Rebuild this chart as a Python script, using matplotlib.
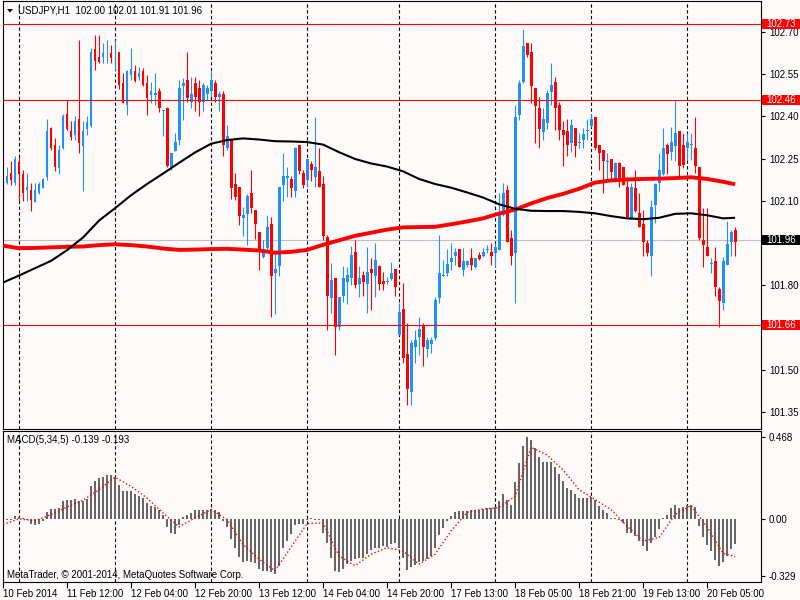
import matplotlib
matplotlib.use("Agg")
import matplotlib.pyplot as plt
from matplotlib.patches import Rectangle, Polygon
from matplotlib.transforms import blended_transform_factory
import numpy as np
import pandas as pd

plt.rcParams['font.family'] = ['Liberation Sans', 'DejaVu Sans']

BG = '#fffafa'
BULL = '#1e90ff'
BEAR = '#ff0000'

# USDJPY H1 candles, 10 Feb 20:00 .. 20 Feb 12:00
opens = [102.12, 102.165, 102.20, 102.163, 102.238, 102.196, 102.137, 102.139, 102.097, 102.127,
         102.145, 102.186, 102.359, 102.30, 102.218, 102.287, 102.408, 102.348, 102.334, 102.392,
         102.295, 102.355, 102.366, 102.641, 102.612, 102.61, 102.613, 102.624, 102.62, 102.63,
         102.518, 102.44, 102.548, 102.563, 102.539, 102.563, 102.52, 102.477, 102.476, 102.491,
         102.42, 102.429, 102.218, 102.279, 102.316, 102.508, 102.529, 102.453, 102.52, 102.50,
         102.45, 102.48, 102.49, 102.52, 102.47, 102.48, 102.287, 102.319, 102.16, 102.148,
         102.038, 102.054, 102.127, 102.068, 101.99, 101.90, 101.934, 102.018, 101.845, 101.869,
         102.157, 102.18, 102.177, 102.136, 102.298, 102.20, 102.174, 102.23, 102.184, 102.207,
         102.16, 101.973, 101.754, 101.825, 101.651, 101.762, 101.813, 101.825, 101.917, 101.805,
         101.837, 101.805, 101.857, 101.833, 101.869, 101.816, 101.812, 101.821, 101.857, 101.624,
         101.716, 101.556, 101.423, 101.582, 101.615, 101.656, 101.574, 101.592, 101.612, 101.756,
         101.834, 101.845, 101.884, 101.905, 101.929, 101.855, 101.872, 101.896, 101.866, 101.908,
         101.904, 101.927, 101.920, 101.916, 101.926, 102.050, 102.139, 101.967, 101.916, 102.405,
         102.524, 102.660, 102.630, 102.500, 102.429, 102.346, 102.378, 102.488, 102.524, 102.441,
         102.352, 102.350, 102.307, 102.358, 102.307, 102.316, 102.349, 102.366, 102.397, 102.299,
         102.281, 102.238, 102.248, 102.168, 102.236, 102.222, 102.151, 102.035, 102.145, 102.058,
         102.018, 101.949, 101.904, 102.086, 102.165, 102.196, 102.299, 102.275, 102.295, 102.350,
         102.299, 102.287, 102.298, 102.287, 102.222, 101.961, 101.938, 101.876, 101.888, 101.787,
         101.736, 101.872, 101.955, 101.997]
highs = [102.19, 102.22, 102.24, 102.26, 102.257, 102.21, 102.20, 102.163, 102.163, 102.168,
         102.18, 102.392, 102.361, 102.322, 102.30, 102.41, 102.458, 102.382, 102.40, 102.672,
         102.382, 102.40, 102.642, 102.69, 102.69, 102.66, 102.67, 102.654, 102.67, 102.63,
         102.553, 102.565, 102.642, 102.582, 102.577, 102.571, 102.547, 102.524, 102.553, 102.50,
         102.423, 102.432, 102.27, 102.34, 102.53, 102.535, 102.63, 102.54, 102.54, 102.53,
         102.52, 102.51, 102.56, 102.53, 102.49, 102.49, 102.37, 102.32, 102.198, 102.15,
         102.08, 102.124, 102.21, 102.068, 101.99, 101.96, 102.05, 102.042, 101.92, 102.15,
         102.27, 102.22, 102.19, 102.29, 102.30, 102.21, 102.25, 102.24, 102.397, 102.287,
         102.19, 101.979, 101.878, 101.825, 101.76, 101.87, 101.866, 101.94, 101.96, 101.87,
         101.85, 101.938, 101.896, 101.949, 101.872, 101.848, 101.83, 101.884, 101.857, 101.736,
         101.807, 101.665, 101.606, 101.642, 101.689, 101.665, 101.618, 101.618, 101.760, 101.979,
         101.890, 101.928, 101.949, 101.932, 101.929, 101.932, 101.890, 101.932, 101.899, 101.920,
         101.932, 101.943, 101.949, 101.949, 102.127, 102.163, 102.157, 101.997, 102.441, 102.530,
         102.71, 102.660, 102.660, 102.500, 102.470, 102.429, 102.494, 102.589, 102.541, 102.453,
         102.382, 102.390, 102.390, 102.358, 102.340, 102.358, 102.390, 102.409, 102.397, 102.299,
         102.281, 102.271, 102.248, 102.239, 102.239, 102.222, 102.186, 102.165, 102.210, 102.127,
         102.068, 101.961, 102.103, 102.163, 102.269, 102.358, 102.305, 102.364, 102.458, 102.350,
         102.340, 102.340, 102.340, 102.399, 102.222, 102.074, 102.074, 101.896, 101.938, 101.795,
         101.902, 102.030, 101.997, 102.009]
lows = [102.11, 102.16, 102.157, 102.157, 102.10, 102.10, 102.10, 102.065, 102.097, 102.125,
        102.145, 102.174, 102.28, 102.207, 102.196, 102.283, 102.352, 102.318, 102.316, 102.269,
        102.136, 102.334, 102.364, 102.565, 102.589, 102.589, 102.589, 102.589, 102.565, 102.496,
        102.447, 102.405, 102.53, 102.524, 102.53, 102.508, 102.405, 102.447, 102.44, 102.417,
        102.33, 102.222, 102.21, 102.279, 102.30, 102.387, 102.452, 102.43, 102.42, 102.40,
        102.42, 102.46, 102.47, 102.45, 102.42, 102.26, 102.28, 102.106, 102.103, 102.015,
        101.975, 101.943, 102.056, 101.964, 101.855, 101.896, 101.926, 101.686, 101.70, 101.833,
        102.10, 102.115, 102.115, 102.115, 102.196, 102.145, 102.148, 102.17, 102.148, 102.148,
        101.96, 101.641, 101.701, 101.553, 101.641, 101.74, 101.734, 101.80, 101.79, 101.76,
        101.764, 101.703, 101.712, 101.760, 101.784, 101.784, 101.805, 101.819, 101.762, 101.624,
        101.525, 101.375, 101.375, 101.523, 101.553, 101.514, 101.544, 101.559, 101.606, 101.736,
        101.833, 101.833, 101.855, 101.872, 101.866, 101.833, 101.866, 101.855, 101.863, 101.890,
        101.902, 101.914, 101.872, 101.866, 101.926, 102.047, 101.955, 101.872, 101.736, 102.387,
        102.518, 102.612, 102.449, 102.307, 102.287, 102.316, 102.354, 102.441, 102.352, 102.316,
        102.224, 102.260, 102.275, 102.257, 102.287, 102.287, 102.316, 102.364, 102.281, 102.210,
        102.127, 102.174, 102.168, 102.168, 102.151, 102.157, 102.044, 102.035, 102.062, 102.006,
        101.904, 101.904, 101.833, 102.020, 102.136, 102.192, 102.196, 102.245, 102.243, 102.189,
        102.216, 102.245, 102.245, 102.198, 101.961, 101.867, 101.904, 101.845, 101.762, 101.651,
        101.713, 101.872, 101.904, 101.904]
closes = [102.17, 102.19, 102.175, 102.248, 102.196, 102.127, 102.15, 102.103, 102.139, 102.16,
          102.177, 102.348, 102.287, 102.222, 102.28, 102.40, 102.355, 102.328, 102.382, 102.307,
          102.348, 102.38, 102.63, 102.598, 102.594, 102.624, 102.614, 102.606, 102.622, 102.512,
          102.449, 102.563, 102.567, 102.526, 102.553, 102.51, 102.467, 102.491, 102.484, 102.429,
          102.421, 102.224, 102.269, 102.31, 102.50, 102.52, 102.464, 102.48, 102.47, 102.45,
          102.51, 102.50, 102.53, 102.47, 102.48, 102.30, 102.33, 102.147, 102.115, 102.048,
          102.05, 102.118, 102.076, 102.017, 101.92, 101.92, 102.009, 101.833, 101.857, 102.148,
          102.189, 102.19, 102.145, 102.287, 102.206, 102.157, 102.248, 102.21, 102.222, 102.148,
          101.976, 101.762, 101.819, 101.653, 101.76, 101.825, 101.837, 101.908, 101.80, 101.825,
          101.813, 101.846, 101.843, 101.890, 101.805, 101.805, 101.814, 101.845, 101.795, 101.707,
          101.541, 101.431, 101.596, 101.606, 101.645, 101.582, 101.606, 101.606, 101.748, 101.845,
          101.835, 101.876, 101.896, 101.920, 101.866, 101.888, 101.888, 101.872, 101.896, 101.893,
          101.920, 101.929, 101.904, 101.938, 102.058, 102.127, 101.955, 101.904, 102.397, 102.518,
          102.650, 102.618, 102.508, 102.437, 102.354, 102.390, 102.482, 102.512, 102.429, 102.352,
          102.334, 102.299, 102.370, 102.295, 102.309, 102.337, 102.351, 102.390, 102.287, 102.269,
          102.243, 102.240, 102.204, 102.236, 102.174, 102.157, 102.044, 102.148, 102.065, 102.006,
          101.955, 101.914, 102.080, 102.160, 102.210, 102.289, 102.267, 102.310, 102.342, 102.224,
          102.228, 102.310, 102.300, 102.224, 101.967, 101.943, 101.904, 101.878, 101.795, 101.744,
          101.888, 101.947, 101.991, 101.955]

# moving averages, read every 4th bar (plus the last one)
ma_step = 4
ma_black = [101.81, 101.835, 101.861, 101.887, 101.925, 101.97, 102.03, 102.074, 102.12, 102.16,
            102.197, 102.235, 102.272, 102.303, 102.316, 102.322, 102.318, 102.312, 102.311, 102.309,
            102.300, 102.273, 102.249, 102.233, 102.222, 102.205, 102.178, 102.16, 102.147, 102.13,
            102.112, 102.088, 102.072, 102.065, 102.064, 102.064, 102.061, 102.056, 102.046, 102.038,
            102.035, 102.040, 102.054, 102.056, 102.049, 102.038, 102.040]
ma_red = [101.941, 101.932, 101.933, 101.935, 101.937, 101.938, 101.943, 101.946, 101.943, 101.938,
          101.931, 101.926, 101.927, 101.929, 101.930, 101.927, 101.924, 101.916, 101.919, 101.926,
          101.944, 101.960, 101.976, 101.987, 101.998, 102.006, 102.007, 102.008, 102.017, 102.027,
          102.038, 102.055, 102.069, 102.091, 102.110, 102.125, 102.143, 102.165, 102.173, 102.176,
          102.178, 102.179, 102.181, 102.184, 102.178, 102.168, 102.159]

# MACD(5,34,5) main values per bar, and signal read every 4th bar
macd = [-0.011, -0.011, -0.006, 0.017, 0.010, 0.002, -0.011, -0.029, -0.036, -0.034,
        -0.017, 0.040, 0.057, 0.055, 0.059, 0.099, 0.109, 0.109, 0.112, 0.099,
        0.101, 0.112, 0.185, 0.217, 0.232, 0.242, 0.251, 0.248, 0.242, 0.194,
        0.156, 0.156, 0.156, 0.143, 0.131, 0.118, 0.090, 0.074, 0.067, 0.048,
        0.023, -0.050, -0.082, -0.091, -0.040, 0.010, 0.023, 0.032, 0.048, 0.051,
        0.048, 0.051, 0.055, 0.048, 0.040, -0.015, -0.050, -0.116, -0.168, -0.219,
        -0.250, -0.244, -0.253, -0.257, -0.291, -0.301, -0.301, -0.310, -0.322, -0.272,
        -0.168, -0.130, -0.091, -0.040, -0.029, -0.034, -0.011, 0.004, -0.006, -0.006,
        -0.082, -0.139, -0.225, -0.301, -0.307, -0.288, -0.263, -0.244, -0.234, -0.230,
        -0.225, -0.206, -0.181, -0.168, -0.168, -0.158, -0.162, -0.149, -0.143, -0.168,
        -0.230, -0.295, -0.282, -0.269, -0.253, -0.244, -0.234, -0.215, -0.168, -0.097,
        -0.057, -0.015, 0.017, 0.038, 0.042, 0.046, 0.046, 0.048, 0.048, 0.051,
        0.055, 0.061, 0.061, 0.067, 0.099, 0.143, 0.109, 0.080, 0.208, 0.318,
        0.417, 0.467, 0.451, 0.404, 0.356, 0.328, 0.328, 0.328, 0.299, 0.257,
        0.219, 0.175, 0.162, 0.143, 0.118, 0.118, 0.118, 0.124, 0.109, 0.070,
        0.048, 0.029, 0.002, 0.002, -0.006, -0.025, -0.082, -0.086, -0.101, -0.130,
        -0.158, -0.187, -0.139, -0.105, -0.059, 0.004, 0.023, 0.061, 0.080, 0.061,
        0.067, 0.080, 0.080, 0.067, -0.044, -0.105, -0.154, -0.187, -0.238, -0.272,
        -0.250, -0.215, -0.177, -0.145]
signal = [-0.034, -0.002, -0.013, 0.023, 0.067, 0.105, 0.166, 0.238, 0.185, 0.118,
          0.032, -0.048, 0.004, 0.051, -0.006, -0.149, -0.234, -0.300, -0.165, -0.029,
          -0.025, -0.215, -0.272, -0.206, -0.168, -0.187, -0.263, -0.206, -0.072, 0.036,
          0.055, 0.063, 0.128, 0.410, 0.366, 0.280, 0.166, 0.109, 0.051, -0.044,
          -0.130, -0.110, 0.023, 0.075, -0.050, -0.200, -0.220]

price_ticks = [102.70, 102.55, 102.40, 102.25, 102.10, 101.95, 101.80, 101.65, 101.50, 101.35]
# these two scale labels sit under the price boxes in the terminal
hidden_ticks = [101.95, 101.65]
macd_ticks = [0.468, 0.0, -0.329]
macd_tick_labels = ['0.468', '0.00', '-0.329']
# (price, box colour) for the labels in the price scale
price_marks = [(102.73, BEAR), (102.46, BEAR), (101.96, '#000000'), (101.66, BEAR)]
red_levels = [102.73, 102.46, 101.66]
last_price = 101.96

title = 'USDJPY,H1  102.00 102.01 101.91 101.96'
macd_title = 'MACD(5,34,5) -0.139 -0.193'
copyright_text = 'MetaTrader, \u00a9 2001-2014, MetaQuotes Software Corp.'

# bar times: hourly, no weekend, Friday closes after 22:00
times = pd.date_range('2014-02-10 20:00', '2014-02-20 12:00', freq='h')
times = times[(times.dayofweek < 5) & ~((times.dayofweek == 4) & (times.hour == 23))]

o = np.array(opens); h = np.array(highs); l = np.array(lows); c = np.array(closes)
x = np.arange(len(o))
cols = np.where(c >= o, BULL, BEAR)

ma_x = list(range(0, len(o), ma_step))
if ma_x[-1] != len(o) - 1:
    ma_x.append(len(o) - 1)

W, H = 800, 600
fig = plt.figure(figsize=(8, 6), dpi=100, facecolor=BG)

def fx(px):
    return px / W

def fy(py):
    return 1 - py / H

ax = fig.add_axes([fx(2.7), fy(428.7), fx(758), 428 / H], facecolor=BG)
ax2 = fig.add_axes([fx(2.7), fy(581.7), fx(758), 151 / H], facecolor=BG)

xlim = (-0.075, 189.4)
for a in (ax, ax2):
    a.set_xlim(*xlim)
    for s in a.spines.values():
        s.set_color('black')
        s.set_linewidth(0.8)
    # day separators
    for i in np.where(times.hour == 0)[0]:
        a.axvline(i, color='black', lw=0.8, ls=(0, (3, 2.2)), zorder=1)

# main chart
ax.set_ylim(101.291, 102.811)
ax.vlines(x, l, h, colors=cols, lw=0.8, zorder=2)
ax.bar(x, np.maximum(np.abs(c - o), 0.003), bottom=np.minimum(o, c), width=0.74,
       color=cols, linewidth=0, zorder=2)
ax.plot(ma_x, ma_red, color='red', lw=2.8, solid_capstyle='butt', zorder=3)
ax.plot(ma_x, ma_black, color='black', lw=1.5, solid_capstyle='butt', zorder=3)
for lv in red_levels:
    ax.axhline(lv, color='red', lw=0.8, zorder=4)
ax.axhline(last_price, color='#c0c0c0', lw=0.8, zorder=1.5)

ax.set_xticks([])
ax.yaxis.tick_right()
ax.set_yticks(price_ticks)
ax.set_yticklabels(['' if p in hidden_ticks else f'{p:.2f}' for p in price_ticks])
ax.tick_params(axis='y', direction='out', length=3, width=0.8, pad=3, labelsize=7, colors='black')

trans = blended_transform_factory(fig.transFigure, ax.transData)
box_h = 10 / 281.5
for p, face in price_marks:
    ax.add_patch(Rectangle((fx(762), p - box_h / 2), fx(38), box_h, transform=trans,
                           facecolor=face, edgecolor='none', clip_on=False, zorder=10))
    ax.text(fx(766), p, f'{p:.2f}', transform=trans, color='white', fontsize=7,
            va='center', ha='left', clip_on=False, zorder=11)

# MACD panel
ax2.set_ylim(-0.364, 0.506)
ax2.bar(x, macd, width=0.68, color='#666666', linewidth=0, zorder=2)
ax2.plot(ma_x, signal, color='red', lw=1.0, ls=(0, (1, 1.6)), zorder=3)
ax2.yaxis.tick_right()
ax2.set_yticks(macd_ticks)
ax2.set_yticklabels(macd_tick_labels)
ax2.tick_params(axis='y', direction='out', length=3, width=0.8, pad=3, labelsize=7)

tick_idx = list(range(0, len(o), 16))
tick_lbl = [times[0].strftime('%d %b %Y')] + [times[i].strftime('%d %b %H:%M') for i in tick_idx[1:]]
ax2.set_xticks(tick_idx)
ax2.set_xticklabels(tick_lbl)
ax2.tick_params(axis='x', direction='out', length=4, width=0.8, pad=1, labelsize=7)
for t in ax2.get_xticklabels():
    t.set_ha('left')

# texts
fig.text(fx(18), fy(10.7), title, fontsize=7, va='center', ha='left')
fig.patches.append(Polygon([[fx(7), fy(9)], [fx(13), fy(9)], [fx(10), fy(12.5)]],
                           closed=True, transform=fig.transFigure, facecolor='black',
                           edgecolor='none'))
fig.text(fx(7), fy(440), macd_title, fontsize=7, va='center', ha='left')
fig.text(fx(7), fy(574.5), copyright_text, fontsize=7, va='center', ha='left')

fig.savefig('out.png', dpi=100, facecolor=BG)
